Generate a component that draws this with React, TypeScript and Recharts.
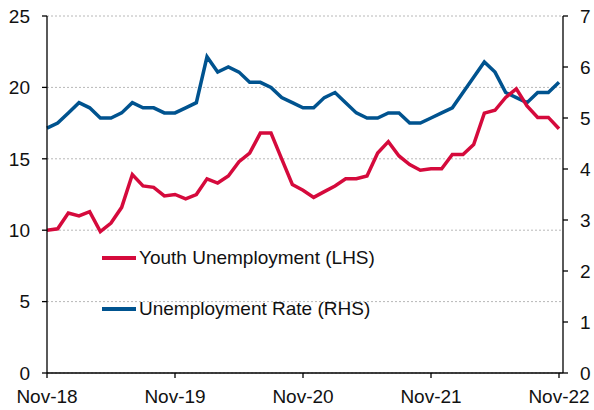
import { FC } from "react"
import { CartesianGrid, Legend, Line, LineChart, XAxis, YAxis } from "recharts"

const months = [
  "Nov-18", "Dec-18", "Jan-19", "Feb-19", "Mar-19", "Apr-19", "May-19", "Jun-19", "Jul-19", "Aug-19", "Sep-19", "Oct-19",
  "Nov-19", "Dec-19", "Jan-20", "Feb-20", "Mar-20", "Apr-20", "May-20", "Jun-20", "Jul-20", "Aug-20", "Sep-20", "Oct-20",
  "Nov-20", "Dec-20", "Jan-21", "Feb-21", "Mar-21", "Apr-21", "May-21", "Jun-21", "Jul-21", "Aug-21", "Sep-21", "Oct-21",
  "Nov-21", "Dec-21", "Jan-22", "Feb-22", "Mar-22", "Apr-22", "May-22", "Jun-22", "Jul-22", "Aug-22", "Sep-22", "Oct-22",
  "Nov-22",
]

// youth unemployment, % (left axis)
const youth = [
  10.0, 10.1, 11.2, 11.0, 11.3, 9.9, 10.5, 11.6, 13.9, 13.1, 13.0, 12.4,
  12.5, 12.2, 12.5, 13.6, 13.3, 13.8, 14.8, 15.4, 16.8, 16.8, 15.0, 13.2,
  12.8, 12.3, 12.7, 13.1, 13.6, 13.6, 13.8, 15.4, 16.2, 15.2, 14.6, 14.2,
  14.3, 14.3, 15.3, 15.3, 16.0, 18.2, 18.4, 19.3, 19.9, 18.7, 17.9, 17.9,
  17.1,
]

// unemployment rate, % (right axis)
const rate = [
  4.8, 4.9, 5.1, 5.3, 5.2, 5.0, 5.0, 5.1, 5.3, 5.2, 5.2, 5.1,
  5.1, 5.2, 5.3, 6.2, 5.9, 6.0, 5.9, 5.7, 5.7, 5.6, 5.4, 5.3,
  5.2, 5.2, 5.4, 5.5, 5.3, 5.1, 5.0, 5.0, 5.1, 5.1, 4.9, 4.9,
  5.0, 5.1, 5.2, 5.5, 5.8, 6.1, 5.9, 5.5, 5.4, 5.3, 5.5, 5.5,
  5.7,
]

const leftTicks = [0, 5, 10, 15, 20, 25]
const rightTicks = [0, 1, 2, 3, 4, 5, 6, 7]

const data = months.map((m, i) => ({ month: m, youth: youth[i], rate: rate[i] }))

const RED = "#d50a3c"
const BLUE = "#00538f"
const FONT = "'Liberation Sans', Arial, sans-serif"

const legendItems = [
  { label: "Youth Unemployment (LHS)", color: RED },
  { label: "Unemployment Rate (RHS)", color: BLUE },
]

const ChartLegend: FC = () => (
  <div style={{ fontFamily: FONT, fontSize: 19, color: "#111" }}>
    {legendItems.map((it) => (
      <div key={it.label} style={{ display: "flex", alignItems: "center", height: 51 }}>
        <span style={{ display: "inline-block", width: 34, height: 4, background: it.color, marginRight: 3 }} />
        <span>{it.label}</span>
      </div>
    ))}
  </div>
)

const tickStyle = { fontSize: 19, fill: "#111", fontFamily: FONT }

const App: FC = () => {
  return (
    <div style={{ position: "absolute", left: 0, top: 0, background: "#fff" }}>
      <LineChart width={594} height={410} data={data} margin={{ top: 16, right: 0, bottom: 0, left: 0 }}>
        <CartesianGrid yAxisId="left" vertical={false} stroke="#b8b8b8" strokeDasharray="2 2" />
        <XAxis
          dataKey="month"
          interval={11}
          padding={{ left: 0, right: 4 }}
          height={37}
          tickSize={5}
          tickMargin={12}
          tick={tickStyle}
          axisLine={{ stroke: "#000", strokeWidth: 1.3 }}
          tickLine={{ stroke: "#000", strokeWidth: 1.3 }}
        />
        <YAxis
          yAxisId="left"
          domain={[0, 25]}
          ticks={leftTicks}
          width={47}
          tickSize={5}
          tickMargin={12}
          tick={tickStyle}
          axisLine={{ stroke: "#000", strokeWidth: 1.3 }}
          tickLine={{ stroke: "#000", strokeWidth: 1.3 }}
        />
        <YAxis
          yAxisId="right"
          orientation="right"
          domain={[0, 7]}
          ticks={rightTicks}
          width={31}
          tickSize={5}
          tickMargin={12}
          tick={{ ...tickStyle, textAnchor: "start" }}
          axisLine={{ stroke: "#000", strokeWidth: 1.3 }}
          tickLine={{ stroke: "#000", strokeWidth: 1.3 }}
        />
        <Legend
          layout="vertical"
          align="center"
          verticalAlign="middle"
          content={() => <ChartLegend />}
          wrapperStyle={{ left: 102, top: 232, width: "auto" }}
        />
        <Line yAxisId="right" dataKey="rate" stroke={BLUE} strokeWidth={3.5} dot={false} isAnimationActive={false} />
        <Line yAxisId="left" dataKey="youth" stroke={RED} strokeWidth={3.5} dot={false} isAnimationActive={false} />
      </LineChart>
    </div>
  )
}

export default App
